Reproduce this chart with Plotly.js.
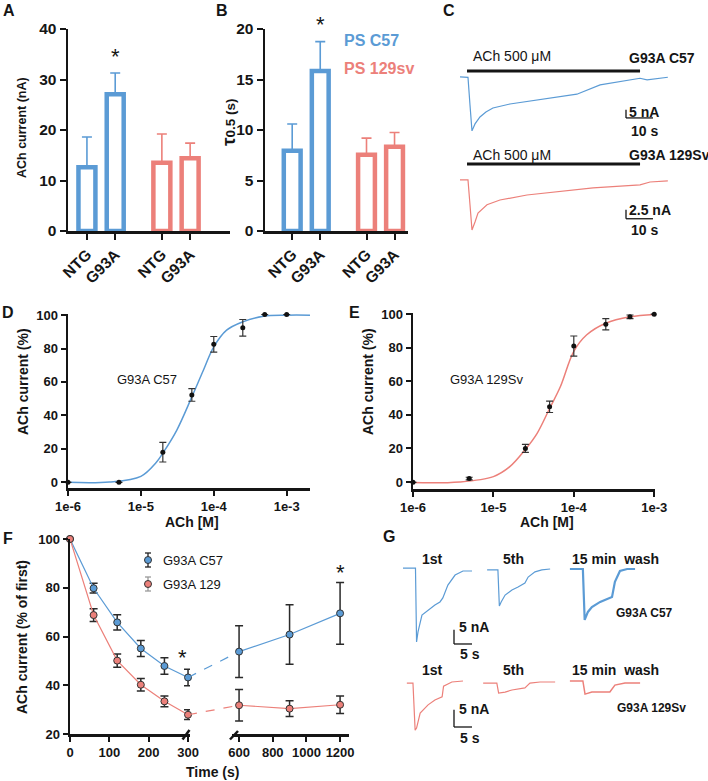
<!DOCTYPE html>
<html><head><meta charset="utf-8">
<script src="https://cdn.plot.ly/plotly-3.0.1.min.js"></script>
<style>html,body{margin:0;padding:0;background:#fff}#chart{width:708px;height:781px}</style>
</head><body><div id="chart"></div>
<script>
const W=708,H=781;
const FONT='Liberation Sans, Arial, Helvetica, sans-serif';
const BLUE='rgb(91,155,213)', RED='rgb(236,128,122)', INK='#151515';

// ---------- DATA ----------
// A / B bar charts
const barCategories=['NTG','G93A','NTG','G93A'];
const achC57=[12.6,27.1], achC57Err=[6.0,4.2];
const ach129=[13.5,14.4], ach129Err=[5.7,3.0];
const tauC57=[7.95,15.85], tauC57Err=[2.65,2.9];
const tau129=[7.55,8.35], tau129Err=[1.65,1.4];

// C example traces (time s, current nA)
const cTimeC57=[0,2.96,3.7,4.44,5.56,7.4,9.6,12.2,18.5,30.7,43.3,51.9,61.9,66.7,69.3,77.0];
const cCurC57=[0,-0.3,-16.9,-32.5,-28.3,-24.1,-21.1,-18.7,-16.3,-13.3,-10.4,-4.8,-2.2,-0.8,-1.8,-0.2];
const cTime129=[0,2.96,3.7,4.44,5.56,6.67,10.0,14.8,24.8,37.0,49.3,66.7,70.4,77.0];
const cCur129=[0,0,-6.9,-13.9,-11.7,-9.2,-6.9,-5.6,-4.2,-3.3,-2.2,-1.4,-0.6,-0.3];
const achApplication=[2.6,66.7];   // s, ACh 500 uM application
const cScaleC57={t:61.5,i:-24.7,dt:10,di:5};
const cScale129={t:61.5,i:-10.8,dt:10,di:2.5};

// D / E concentration-response
const concD=[1e-6,5e-6,2e-5,5e-5,1e-4,2.5e-4,5e-4,1e-3];
const respD=[-0.2,-0.2,17.9,52.2,82.5,92.4,100.4,100.4];
const respDErr=[0,0,5.9,3.8,4.7,5.0,0,0];
const fitConcD=[1e-6,3.7e-6,1e-5,1.6e-5,2e-5,3.1e-5,5e-5,7.2e-5,1e-4,1.5e-4,2.5e-4,4.8e-4,1e-3,2.1e-3];
const fitRespD=[-0.2,0,3.4,11.4,17.3,31,51,67,81,91,96,99.4,100,100];
const concE=[1e-6,5e-6,2.5e-5,5e-5,1e-4,2.5e-4,5e-4,1e-3];
const respE=[-0.2,2.0,20,44.8,81,94,98.4,100];
const respEErr=[0,0.8,2.4,3.4,6.0,3.4,1.1,0];
const fitConcE=[1e-6,3.8e-6,1e-5,1.6e-5,2.5e-5,3.5e-5,5e-5,6.8e-5,1e-4,1.45e-4,2.5e-4,5e-4,1e-3];
const fitRespE=[-0.4,0,3.2,9.1,19.4,29,43.8,56.7,77.8,87.7,94.6,98.4,99.8];

// F rundown
const fTime=[0,60,120,180,240,300,600,900,1200];
const fC57=[100,79.8,65.8,55.1,47.9,43.2,53.8,60.8,69.5];
const fC57Err=[0,2.0,3.1,3.3,3.4,3.4,10.6,12.2,12.7];
const f129=[100,68.8,50.1,40.2,33.4,27.9,31.8,30.4,32.0];
const f129Err=[0,2.6,2.7,2.6,2.2,2.0,6.5,3.2,3.6];

// G sweeps (time s on a shared display timeline, current nA)
const g1stT_C57=[0.83,4.3,4.6,5.0,6.1,7.8,9.7,11.1,11.9,13.3,15.3,17.5,20.0];
const g1stI_C57=[0.3,0.3,-25.5,-22.0,-16.1,-14.3,-12.6,-11.5,-10.1,-5.6,-2.1,-0.7,-0.7];
const g5thT_C57=[24.2,27.2,27.6,28.1,29.2,31.1,32.8,34.7,35.6,37.5,39.4,41.7];
const g5thI_C57=[-0.3,-0.3,-12.9,-11.5,-9.1,-7.3,-6.3,-4.9,-2.8,-1.0,-0.3,0];
const gWashT_C57=[47.2,50.8,51.3,52.2,53.3,55.6,56.9,58.9,59.7,61.1,63.1,65.3];
const gWashI_C57=[0,0,-17.8,-15.0,-13.3,-11.5,-10.8,-9.8,-4.5,-0.7,0,0];
const g1stT_129=[1.9,3.6,4.2,4.6,5.6,7.8,9.7,11.7,12.1,14.4,17.5];
const g1stI_129=[-0.3,-0.3,-13.9,-13.3,-9.0,-6.6,-5.2,-4.3,-1.2,0,0.3];
const g5thT_129=[23.1,26.9,27.4,29.2,31.1,34.7,36.1,38.9,43.1];
const g5thI_129=[-0.3,-0.3,-3.2,-2.9,-2.3,-1.7,-0.3,0,0];
const gWashT_129=[47.2,50.8,51.4,53.3,55.6,58.3,59.7,62.5,66.7];
const gWashI_129=[0.3,0.3,-3.5,-2.9,-2.9,-2.9,-0.9,-0.3,-0.3];
const gScaleC57={t:15,i:-26.2,dt:5,di:5};
const gScale129={t:15,i:-13.0,dt:5,di:5};

// ---------- LAYOUT HELPERS ----------
const fx=p=>p/W, fy=p=>1-p/H;
const xdom=(a,b)=>[fx(a),fx(b)];
const ydom=(t,b)=>[fy(b),fy(t)];
function ax(o){return Object.assign({showgrid:false,zeroline:false,showline:true,linecolor:INK,linewidth:2.5,
  ticks:'outside',ticklen:5,tickwidth:2,tickcolor:INK,
  tickfont:{family:FONT,size:13,color:INK,weight:'bold'},automargin:false,fixedrange:true},o);}
function hid(o){return Object.assign({visible:false,showgrid:false,zeroline:false,fixedrange:true},o);}
function ann(text,x,y,o){return Object.assign({xref:'paper',yref:'paper',x:fx(x),y:fy(y),text:text,showarrow:false,
  xanchor:'center',yanchor:'middle',font:{family:FONT,size:13,color:INK}},o||{});}
const bold=(s,size,color)=>({family:FONT,size:size,color:color||INK,weight:'bold'});
const bigTick={family:FONT,size:15.5,color:INK,weight:'bold'};

const barX=barCategories.map((c,i)=>i+1+(i>=2?0.65:0));

const layout={width:W,height:H,margin:{l:0,r:0,t:0,b:0},paper_bgcolor:'#fff',plot_bgcolor:'rgba(0,0,0,0)',
  showlegend:false,font:{family:FONT,color:INK},
  xaxis:ax({domain:xdom(68,230),range:[0.33,6.06],tickvals:barX,ticktext:barCategories,tickangle:-45,ticklen:6,tickfont:bigTick,anchor:'y'}),
  yaxis:ax({domain:ydom(29,231),range:[0,40],tickvals:[0,10,20,30,40],ticklen:6,tickfont:bigTick,anchor:'x'}),
  xaxis2:ax({domain:xdom(265,408),range:[0.03,5.13],tickvals:barX,ticktext:barCategories,tickangle:-45,ticklen:6,tickfont:bigTick,anchor:'y2'}),
  yaxis2:ax({domain:ydom(29,231),range:[0,20],tickvals:[0,5,10,15,20],ticklen:6,tickfont:bigTick,anchor:'x2'}),
  xaxis3:hid({domain:xdom(460,670),range:[0,77.8],anchor:'y3'}),
  yaxis3:hid({domain:ydom(60,140),range:[-38,10.2],anchor:'x3'}),
  yaxis4:hid({domain:ydom(155,240),range:[-16.7,6.9],anchor:'x3'}),
  xaxis5:ax({domain:xdom(68,310),type:'log',range:[-6,-2.68],tickvals:[1e-6,1e-5,1e-4,1e-3],ticktext:['1e-6','1e-5','1e-4','1e-3'],anchor:'y5'}),
  yaxis5:ax({domain:ydom(313.5,488),range:[-3.6,101],tickvals:[0,20,40,60,80,100],anchor:'x5'}),
  xaxis6:ax({domain:xdom(413,655),type:'log',range:[-6,-2.99],tickvals:[1e-6,1e-5,1e-4,1e-3],ticktext:['1e-6','1e-5','1e-4','1e-3'],anchor:'y6'}),
  yaxis6:ax({domain:ydom(312.5,489),range:[-4.2,101],tickvals:[0,20,40,60,80,100],anchor:'x6'}),
  xaxis7:ax({domain:xdom(70,190),range:[0,305],tickvals:[0,100,200,300],anchor:'y7'}),
  xaxis8:ax({domain:xdom(232,349),range:[558,1253],tickvals:[600,800,1000,1200],anchor:'y7'}),
  yaxis7:ax({domain:ydom(539,734),range:[20,100],tickvals:[20,40,60,80,100],anchor:'x7'}),
  xaxis9:hid({domain:xdom(400,645),range:[0,68.06],anchor:'y9'}),
  yaxis9:hid({domain:ydom(555,650),range:[-28.3,4.9],anchor:'x9'}),
  yaxis10:hid({domain:ydom(668,745),range:[-18.2,4.05],anchor:'x9'}),
  annotations:[],shapes:[]
};

// ---------- TRACES ----------
const traces=[];
function bars(xa,ya,xs,ys,errs,color){
  traces.push({type:'bar',xaxis:xa,yaxis:ya,x:xs,y:ys,width:0.6,
    marker:{color:'#fff',line:{color:color,width:4.5}},
    error_y:{type:'data',array:errs,arrayminus:errs.map(()=>0),color:color,thickness:1.6,width:5},
    hoverinfo:'skip'});
}
bars('x','y',barX.slice(0,2),achC57,achC57Err,BLUE);
bars('x','y',barX.slice(2),ach129,ach129Err,RED);
bars('x2','y2',barX.slice(0,2),tauC57,tauC57Err,BLUE);
bars('x2','y2',barX.slice(2),tau129,tau129Err,RED);

function line(xa,ya,xs,ys,color,w){traces.push({type:'scatter',mode:'lines',xaxis:xa,yaxis:ya,x:xs,y:ys,
  line:{color:color,width:w||1.2},hoverinfo:'skip',cliponaxis:false});}
line('x3','y3',cTimeC57,cCurC57,BLUE);
line('x3','y4',cTime129,cCur129,RED);

// D / E
line('x5','y5',fitConcD,fitRespD,BLUE,1.5);
traces[traces.length-1].line.shape='spline';
traces.push({type:'scatter',mode:'markers',xaxis:'x5',yaxis:'y5',x:concD,y:respD,cliponaxis:false,
  marker:{color:'#111',size:5},error_y:{type:'data',array:respDErr,color:'#333',thickness:1.2,width:3.5},hoverinfo:'skip'});
line('x6','y6',fitConcE,fitRespE,RED,1.5);
traces[traces.length-1].line.shape='spline';
traces.push({type:'scatter',mode:'markers',xaxis:'x6',yaxis:'y6',x:concE,y:respE,cliponaxis:false,
  marker:{color:'#111',size:5},error_y:{type:'data',array:respEErr,color:'#333',thickness:1.2,width:3.5},hoverinfo:'skip'});

// F (broken axis: early part on x7, late part on x8)
function fSeries(vals,errs,color){
  const early=fTime.map((t,i)=>i).filter(i=>fTime[i]<=300), late=fTime.map((t,i)=>i).filter(i=>fTime[i]>=600);
  [[early,'x7'],[late,'x8']].forEach(([idx,xa])=>{
    traces.push({type:'scatter',mode:'lines+markers',xaxis:xa,yaxis:'y7',x:idx.map(i=>fTime[i]),y:idx.map(i=>vals[i]),
      cliponaxis:false,line:{color:color,width:1.2},
      marker:{color:color,size:7,line:{color:'#333',width:1}},
      error_y:{type:'data',array:idx.map(i=>errs[i]),color:'#2a2a2a',thickness:1.5,width:4},hoverinfo:'skip'});
  });
}
fSeries(fC57,fC57Err,BLUE);
fSeries(f129,f129Err,RED);

// G sweeps
line('x9','y9',g1stT_C57,g1stI_C57,BLUE);
line('x9','y9',g5thT_C57,g5thI_C57,BLUE);
line('x9','y9',gWashT_C57,gWashI_C57,BLUE,2.2);
line('x9','y10',g1stT_129,g1stI_129,RED);
line('x9','y10',g5thT_129,g5thI_129,RED);
line('x9','y10',gWashT_129,gWashI_129,RED,1.5);

// ---------- SHAPES ----------
const S=layout.shapes;
function seg(xref,yref,x0,y0,x1,y1,color,w,dash){S.push({type:'line',xref,yref,x0,y0,x1,y1,line:{color:color||INK,width:w||1.5,dash:dash||'solid'}});}
// ACh application bars (C)
seg('x3','paper',achApplication[0],fy(71),achApplication[1],fy(71),INK,3);
seg('x3','paper',achApplication[0],fy(164),achApplication[1],fy(164),INK,3);
// scale bars
function scale(xa,ya,s){seg(xa,ya,s.t,s.i,s.t,s.i+s.di,INK,1.3);seg(xa,ya,s.t,s.i,s.t+s.dt,s.i,INK,1.3);}
scale('x3','y3',cScaleC57);scale('x3','y4',cScale129);
scale('x9','y9',gScaleC57);scale('x9','y10',gScale129);
// F: dashed connection across the axis break
function paperX(axName,v){const a=layout[axName];return a.domain[0]+(v-a.range[0])/(a.range[1]-a.range[0])*(a.domain[1]-a.domain[0]);}
const iLastEarly=fTime.indexOf(300), iFirstLate=fTime.indexOf(600);
seg('paper','y7',paperX('xaxis7',300),fC57[iLastEarly],paperX('xaxis8',600),fC57[iFirstLate],BLUE,1.2,'dash');
seg('paper','y7',paperX('xaxis7',300),f129[iLastEarly],paperX('xaxis8',600),f129[iFirstLate],RED,1.2,'dash');
// F axis break marks
seg('paper','paper',fx(182.5),fy(739.5),fx(189.5),fy(730),INK,2.5);
seg('paper','paper',fx(230),fy(739.5),fx(238),fy(731),INK,2.5);
// F legend icons
function legIcon(xp,yp,fill,errColor){
  seg('paper','paper',fx(xp),fy(yp-7),fx(xp),fy(yp+7),errColor,1.3);
  seg('paper','paper',fx(xp-3),fy(yp-7),fx(xp+3),fy(yp-7),errColor,1.3);
  seg('paper','paper',fx(xp-3),fy(yp+7),fx(xp+3),fy(yp+7),errColor,1.3);
  S.push({type:'circle',xref:'paper',yref:'paper',x0:fx(xp-3.5),x1:fx(xp+3.5),y0:fy(yp+3.5),y1:fy(yp-3.5),
    fillcolor:fill,line:{color:'#333',width:1}});
}
legIcon(148,560,BLUE,'#222');
legIcon(148,584,RED,'#999');

// ---------- TEXT ----------
const A=layout.annotations;
[['A',9,11],['B',222,11],['C',449,11],['D',8,312],['E',354,312],['F',8,538],['G',389,536]]
  .forEach(([t,x,y])=>A.push(ann(t,x,y,{font:bold(0,16)})));
A.push(ann('ACh current (nA)',22,128,{textangle:-90,font:bold(0,12.5)}));
A.push(ann('<span style="font-size:19px">τ</span>0.5 (s)',229,122,{textangle:-90,font:bold(0,13.5)}));
A.push(ann('PS C57',342,41,{xanchor:'left',font:bold(0,16,BLUE)}));
A.push(ann('PS 129sv',342,69,{xanchor:'left',font:bold(0,16,RED)}));
const star=(x,y)=>ann('*',x,y,{font:{family:FONT,size:22,color:INK}});
A.push(star(116,56),star(320,24),star(183,657),star(340,572));
// C
A.push(ann('ACh 500 μM',471,56,{xanchor:'left',font:{family:FONT,size:14,color:INK}}));
A.push(ann('ACh 500 μM',471,155,{xanchor:'left',font:{family:FONT,size:14,color:INK}}));
A.push(ann('G93A C57',627,58,{xanchor:'left',font:bold(0,14)}));
A.push(ann('G93A 129Sv',627,155,{xanchor:'left',font:bold(0,14)}));
A.push(ann('5 nA',627,112,{xanchor:'left',font:bold(0,14)}));
A.push(ann('10 s',629,130.5,{xanchor:'left',font:bold(0,14)}));
A.push(ann('2.5 nA',627,210.5,{xanchor:'left',font:bold(0,14)}));
A.push(ann('10 s',629,230,{xanchor:'left',font:bold(0,14)}));
// D / E
A.push(ann('G93A C57',115,379.5,{xanchor:'left'}));
A.push(ann('G93A 129Sv',448,379.5,{xanchor:'left'}));
A.push(ann('ACh [M]',192,522,{font:bold(0,14)}));
A.push(ann('ACh [M]',547,522,{font:bold(0,14)}));
A.push(ann('ACh current (%)',23,382,{textangle:-90,font:bold(0,14)}));
A.push(ann('ACh current (%)',368,382,{textangle:-90,font:bold(0,14)}));
// F
A.push(ann('ACh current (% of first)',22,637,{textangle:-90,font:bold(0,14)}));
A.push(ann('Time (s)',212,772,{font:bold(0,14)}));
A.push(ann('G93A C57',161,560,{xanchor:'left'}));
A.push(ann('G93A 129',161,584,{xanchor:'left'}));
// G
[['1st',432],['5th',513],['15 min\u00A0 wash',615]].forEach(([t,x])=>{
  A.push(ann(t,x,559,{font:bold(0,14)}));A.push(ann(t,x,670,{font:bold(0,14)}));});
A.push(ann('G93A C57',614,613,{xanchor:'left',font:bold(0,12)}));
A.push(ann('G93A 129Sv',615,708,{xanchor:'left',font:bold(0,12)}));
A.push(ann('5 nA',457,627,{xanchor:'left',font:bold(0,14)}));
A.push(ann('5 s',458,654,{xanchor:'left',font:bold(0,14)}));
A.push(ann('5 nA',457,709,{xanchor:'left',font:bold(0,14)}));
A.push(ann('5 s',458,738,{xanchor:'left',font:bold(0,14)}));

Plotly.newPlot('chart',traces,layout,{staticPlot:true,displayModeBar:false});
</script></body></html>
